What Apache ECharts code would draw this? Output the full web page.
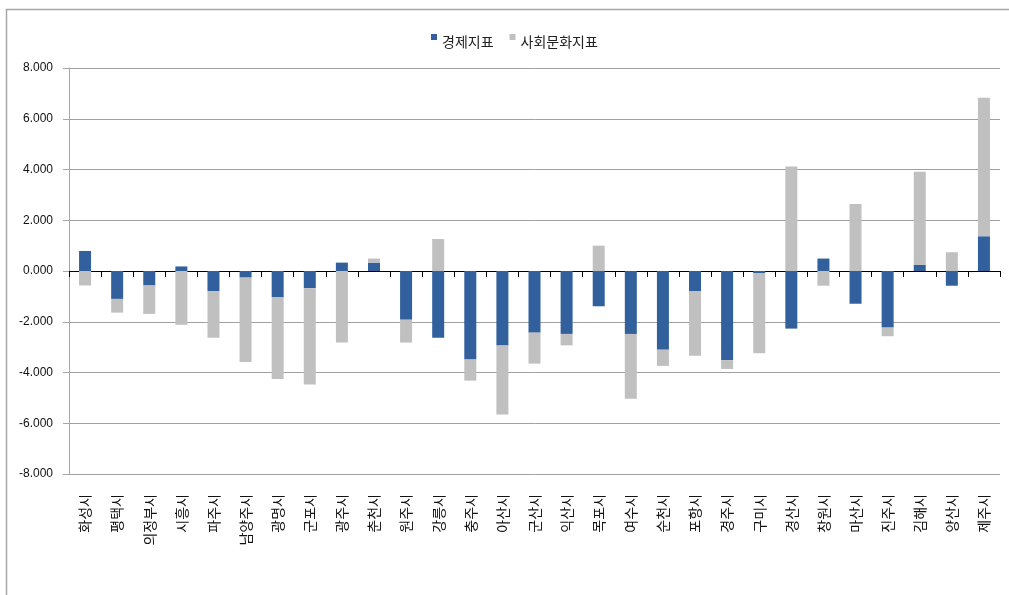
<!DOCTYPE html>
<html>
<head>
<meta charset="utf-8">
<script src="https://cdn.jsdelivr.net/npm/echarts@6/dist/echarts.min.js"></script>
<style>
  html, body { margin: 0; padding: 0; background: #ffffff; }
  #chart { width: 1009px; height: 595px; }
</style>
</head>
<body>
<div id="chart"></div>
<script>
// Cities along the x axis
var cities = ['화성시', '평택시', '의정부시', '시흥시', '파주시', '남양주시', '광명시', '군포시',
  '광주시', '춘천시', '원주시', '강릉시', '충주시', '아산시', '군산시', '익산시', '목포시',
  '여수시', '순천시', '포항시', '경주시', '구미시', '경산시', '창원시', '마산시', '진주시',
  '김해시', '양산시', '제주시'];

// Economic index per city
var economic = [0.79, -1.10, -0.57, 0.18, -0.79, -0.26, -1.04, -0.68,
  0.33, 0.33, -1.92, -2.63, -3.49, -2.94, -2.43, -2.48, -1.39,
  -2.48, -3.10, -0.79, -3.51, -0.08, -2.27, 0.49, -1.29, -2.23,
  0.24, -0.58, 1.37];

// Socio-cultural index per city
var social = [-0.57, -0.54, -1.12, -2.12, -1.84, -3.33, -3.22, -3.79,
  -2.82, 0.16, -0.90, 1.26, -0.83, -2.72, -1.22, -0.45, 1.00,
  -2.55, -0.64, -2.55, -0.35, -3.16, 4.12, -0.58, 2.64, -0.34,
  3.67, 0.74, 5.46];

var seriesNames = ['경제지표', '사회문화지표'];
var yTicks = { min: -8, max: 8, step: 2 };

var FONT = '"Noto Sans CJK KR", "Noto Sans", sans-serif';
// small square sitting in the upper part of the legend item box
var legendIcon = 'path://M0,0H6V6H0Z M0,16H0.01V16.01H0Z';

var chart = echarts.init(document.getElementById('chart'), null, { renderer: 'canvas' });

chart.setOption({
  backgroundColor: '#ffffff',
  animation: false,
  graphic: [{
    type: 'rect',
    left: 4, top: 7,
    shape: { width: 1020, height: 610 },
    style: { fill: 'none', stroke: '#a6a6a6', lineWidth: 1.5 },
    silent: true,
    z: -1
  }],
  legend: {
    left: 426, top: 29,
    itemWidth: 6, itemHeight: 16, itemGap: 16,
    icon: legendIcon,
    textStyle: { fontFamily: FONT, fontSize: 14, color: '#222' },
    data: seriesNames
  },
  grid: { left: 69, right: 9, top: 68, bottom: 121, containLabel: false },
  xAxis: [{
    type: 'category',
    data: cities,
    axisLine: { onZero: true, lineStyle: { color: '#000', width: 1 } },
    axisTick: { show: true, interval: 0, length: 6, lineStyle: { color: '#000' } },
    axisLabel: { show: false }
  }, {
    type: 'category',
    data: cities,
    position: 'bottom',
    axisLine: { show: false, onZero: false },
    axisTick: { show: false },
    axisLabel: {
      show: true, interval: 0, rotate: 90, margin: 20,
      fontFamily: FONT, fontSize: 14, color: '#111'
    }
  }],
  yAxis: {
    type: 'value',
    min: yTicks.min, max: yTicks.max, interval: yTicks.step,
    axisLine: { show: true, lineStyle: { color: '#a6a6a6' } },
    axisTick: { show: true, length: 6, lineStyle: { color: '#a6a6a6' } },
    splitLine: { lineStyle: { color: '#a0a0a0', width: 1 } },
    axisLabel: {
      margin: 16, fontFamily: 'Arial, "Liberation Sans", sans-serif', fontSize: 12, color: '#111',
      formatter: function (v) { return v.toFixed(3); }
    }
  },
  series: [{
    name: seriesNames[0],
    type: 'bar',
    stack: 'idx',
    stackStrategy: 'samesign',
    barWidth: 12,
    xAxisIndex: 0,
    itemStyle: { color: '#31609c' },
    data: economic
  }, {
    name: seriesNames[1],
    type: 'bar',
    stack: 'idx',
    stackStrategy: 'samesign',
    barWidth: 12,
    xAxisIndex: 0,
    itemStyle: { color: '#c0c0c0' },
    data: social
  }]
});
</script>
</body>
</html>
